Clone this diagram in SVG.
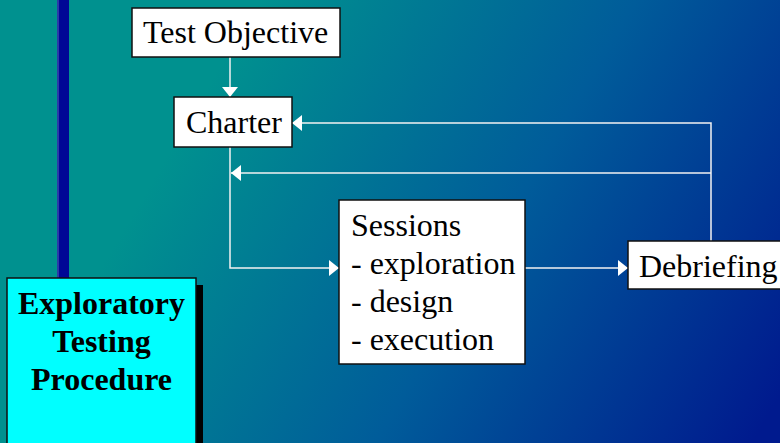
<svg xmlns="http://www.w3.org/2000/svg" width="780" height="443" viewBox="0 0 780 443">
<defs>
<linearGradient id="bg" gradientUnits="userSpaceOnUse" x1="200" y1="100" x2="760" y2="430">
<stop offset="0" stop-color="#00918f"/>
<stop offset="0.5" stop-color="#005c9a"/>
<stop offset="1" stop-color="#001a8e"/>
</linearGradient>
<marker id="ah" viewBox="0 0 10 16" refX="10" refY="8" markerWidth="10" markerHeight="16" markerUnits="userSpaceOnUse" orient="auto">
<path d="M0,0 L10,8 L0,16 z" fill="#ffffff"/>
</marker>
<style>
.box{fill:#ffffff;stroke:#111111;stroke-width:1.5}
.t{font-family:"Liberation Serif","Times New Roman",serif;font-size:32px;fill:#000000}
.tb{font-family:"Liberation Serif","Times New Roman",serif;font-size:32px;font-weight:bold;fill:#000000;text-anchor:middle}
.c{fill:none;stroke:#f2f2f2;stroke-width:1.5;marker-end:url(#ah)}
</style>
</defs>
<rect x="0" y="0" width="780" height="443" fill="url(#bg)"/>
<rect x="0" y="0" width="57" height="443" fill="#00918f"/>
<rect x="57" y="0" width="12" height="280" fill="#000896"/>
<rect x="57" y="0" width="2" height="280" fill="#2a3aa8"/>
<g id="connectors">
<path class="c" d="M230,57 V97"/>
<path class="c" d="M230,147 V268 H339"/>
<path class="c" d="M525,268 H628"/>
<path class="c" d="M711,241 V123 H292"/>
<path class="c" d="M711,173 H231"/>
</g>
<g id="test-objective">
<rect class="box" x="132" y="8" width="208" height="49"/>
<text class="t" x="143" y="43">Test Objective</text>
</g>
<g id="charter">
<rect class="box" x="174" y="97" width="118" height="50"/>
<text class="t" x="186" y="133">Charter</text>
</g>
<g id="sessions">
<rect class="box" x="339" y="200" width="186" height="164"/>
<text class="t" x="351" y="236">Sessions</text>
<text class="t" x="351" y="274">- exploration</text>
<text class="t" x="351" y="312">- design</text>
<text class="t" x="351" y="350">- execution</text>
</g>
<g id="debriefing">
<rect class="box" x="628" y="241" width="160" height="48"/>
<text class="t" x="639" y="277">Debriefing</text>
</g>
<g id="title">
<rect x="14" y="285" width="189" height="170" fill="#000000"/>
<rect x="7" y="278" width="189" height="170" fill="#00ffff" stroke="#111111" stroke-width="1.5"/>
<text class="tb" x="101.5" y="314">Exploratory</text>
<text class="tb" x="101.5" y="352">Testing</text>
<text class="tb" x="101.5" y="390">Procedure</text>
</g>
</svg>
